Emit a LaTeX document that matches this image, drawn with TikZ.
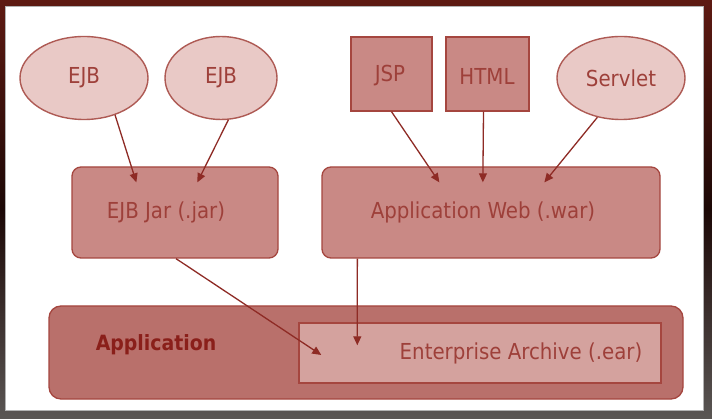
\documentclass[tikz,border=0pt]{standalone}
\usepackage{fontspec}
\setmainfont{DejaVu Sans Condensed}
\usetikzlibrary{arrows.meta,shapes.geometric,calc}
\definecolor{frametop}{HTML}{5E1A12}
\definecolor{framemid}{HTML}{1C0806}
\definecolor{framebot}{HTML}{5A5654}
\definecolor{ellfill}{HTML}{E9C9C6}
\definecolor{ellline}{HTML}{AE5A54}
\definecolor{boxfill}{HTML}{C98985}
\definecolor{boxline}{HTML}{A5463F}
\definecolor{appfill}{HTML}{B9706B}
\definecolor{earfill}{HTML}{D4A29E}
\definecolor{labtext}{HTML}{9E403A}
\definecolor{arrcol}{HTML}{8E2B25}
\definecolor{apptext}{HTML}{8A1F1A}
\tikzset{
  lab/.style={font=\fontsize{22}{24}\selectfont, text=labtext},
  ellnode/.style={ellipse, draw=ellline, fill=ellfill, line width=1.4pt, inner sep=0pt, minimum width=128pt, minimum height=83pt, lab},
  sqnode/.style={rectangle, draw=boxline, fill=boxfill, line width=1.3pt, inner sep=0pt},
  rbox/.style={rectangle, rounded corners=9pt, draw=boxline, fill=boxfill, line width=1.3pt, inner sep=0pt},
  arr/.style={draw=arrcol, line width=1.3pt, -{Triangle[length=9pt,width=8pt]}}
}
\begin{document}
\begin{tikzpicture}[x=1pt,y=-1pt]
\useasboundingbox (0,0) rectangle (712,419);
% frame
\shade[top color=frametop, bottom color=framebot, middle color=framemid] (0,0) rectangle (712,419);
\fill[white] (5,6) rectangle (703,410);
\draw[gray!60, line width=0.8pt] (5,6) rectangle (703,410);
% top row
\node[ellnode] (ejb1) at (84,78) {EJB};
\node[ellnode, minimum width=112pt] (ejb2) at (221,78) {EJB};
\node[sqnode, minimum width=81pt, minimum height=74pt] (jsp) at (391.5,74) {};
\node[lab] (jsptext) at (390,76) {JSP};
\node[sqnode, minimum width=83pt, minimum height=74pt] (html) at (487.5,74) {};
\node[lab] (htmltext) at (487,76) {HTML};
\node[ellnode] (servlet) at (621,78) {Servlet};
% middle row
\node[rbox, minimum width=206pt, minimum height=91pt] (jar) at (175,212.5) {};
\node[lab] (jartext) at (166,212) {EJB Jar (.jar)};
\node[rbox, minimum width=338pt, minimum height=91pt] (web) at (491,212.5) {};
\node[lab] (webtext) at (483,212) {Application Web (.war)};
% bottom
\node[rbox, rounded corners=12pt, fill=appfill, minimum width=634pt, minimum height=93pt] (app) at (366,352.5) {};
\node[font=\bfseries\fontsize{21}{24}\selectfont, text=apptext] (apptext) at (156,345) {Application};
\node[rectangle, draw=boxline, fill=earfill, line width=1.4pt, minimum width=362pt, minimum height=60pt, inner sep=0pt] (ear) at (480,353) {};
\node[lab] (eartext) at (521,353) {Enterprise Archive (.ear)};
% arrows
\draw[arr] (ejb1.-50) -- ($(jar.north west)+(65,16)$);
\draw[arr] (ejb2.-80) -- ($(jar.north west)+(126,16)$);
\draw[arr] (jsp.south) -- ($(web.north west)+(118,16)$);
\draw[arr] ($(html.south)+(-4,0)$) -- ($(web.north west)+(161.5,16)$);
\draw[arr] (servlet.-121) -- ($(web.north west)+(223,16)$);
\draw[arr] ($(jar.south)+(1,0)$) -- ($(ear.west)+(23,2)$);
\draw[arr] ($(web.south west)+(36,0)$) -- ($(ear.north west)+(59,23)$);
\end{tikzpicture}
\end{document}
